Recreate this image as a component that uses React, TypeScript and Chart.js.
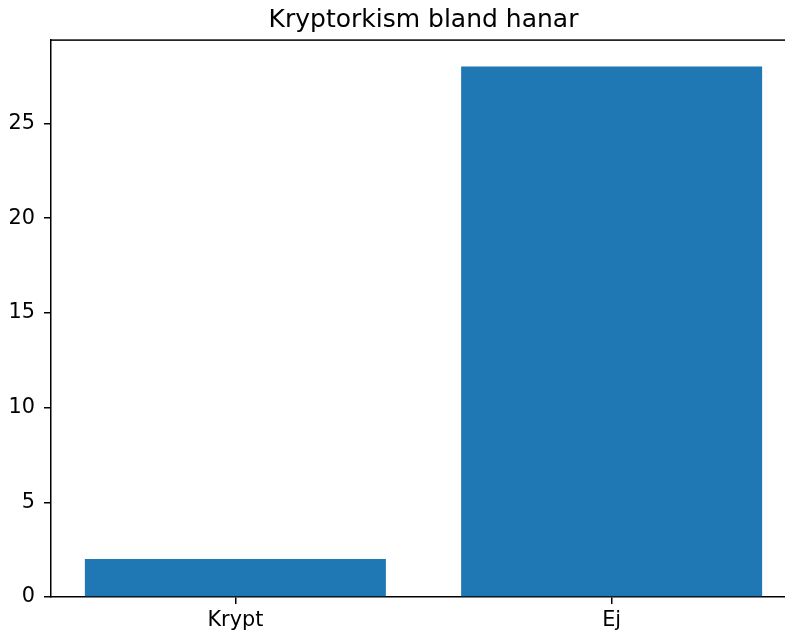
import React, { useEffect, useRef } from "react";
import { Chart, registerables } from "chart.js";

Chart.register(...registerables);

const categories: string[] = ["Krypt", "Ej"];
const counts: number[] = [2, 28];
const yTicks: number[] = [0, 5, 10, 15, 20, 25];
const chartTitle = "Kryptorkism bland hanar";

const topSpinePlugin = {
  id: "topSpine",
  afterDraw(chart: any) {
    const { ctx, chartArea } = chart;
    ctx.save();
    ctx.fillStyle = "#000";
    ctx.fillRect(chartArea.left - 0.75, chartArea.top - 0.75, chartArea.right - chartArea.left + 1.5, 1.5);
    ctx.restore();
  },
};

export default function App() {
  const ref = useRef<HTMLCanvasElement>(null);
  useEffect(() => {
    if (!ref.current) return;
    Chart.defaults.font.family = "'DejaVu Sans', sans-serif";
    const chart = new Chart(ref.current, {
      type: "bar",
      data: {
        datasets: [
          {
            data: counts.map((v, i) => ({ x: i, y: v })),
            backgroundColor: "#1f77b4",
            borderWidth: 0,
            barPercentage: 0.8,
            categoryPercentage: 1,
          },
        ],
      },
      options: {
        responsive: false,
        animation: false,
        devicePixelRatio: 1,
        layout: { padding: { left: 0, right: 4, top: 0, bottom: 0 } },
        plugins: {
          legend: { display: false },
          tooltip: { enabled: false },
          title: {
            display: true,
            text: chartTitle,
            fullSize: false,
            color: "#000",
            font: { size: 25, weight: "normal", lineHeight: 1.2 },
            padding: { top: 5.5, bottom: 4.6 },
          },
        },
        scales: {
          x: {
            type: "linear",
            min: -0.49,
            max: 1.49,
            offset: false,
            afterBuildTicks: (scale: any) => {
              scale.ticks = categories.map((_, i) => ({ value: i }));
            },
            afterFit: (scale: any) => {
              scale.height = 35;
            },
            ticks: {
              includeBounds: false,
              color: "#000",
              font: { size: 20.8 },
              padding: 4,
              maxRotation: 0,
              autoSkip: false,
              callback: (v: any) => categories[Number(v)] ?? "",
            },
            grid: { offset: false, drawOnChartArea: false, drawTicks: true, tickLength: 7, color: "#000", lineWidth: 1.5 },
            border: { display: true, color: "#000", width: 1.5 },
          },
          y: {
            type: "linear",
            min: 0,
            max: 29.4,
            afterBuildTicks: (scale: any) => {
              scale.ticks = yTicks.map((v) => ({ value: v }));
            },
            afterFit: (scale: any) => {
              scale.width = 51;
            },
            ticks: {
              includeBounds: false,
              color: "#000",
              font: { size: 20.8 },
              padding: 9,
              callback: (v: any) => String(v),
            },
            grid: { drawOnChartArea: false, drawTicks: true, tickLength: 7, color: "#000", lineWidth: 1.5 },
            border: { display: true, color: "#000", width: 1.5 },
          },
        },
      },
      plugins: [topSpinePlugin],
    } as any);
    return () => chart.destroy();
  }, []);
  return (
    <div style={{ position: "fixed", left: 0, top: 0, width: 785, height: 632, overflow: "hidden", background: "#fff" }}>
      <canvas ref={ref} width={800} height={632} style={{ width: 800, height: 632, display: "block" }} />
    </div>
  );
}
